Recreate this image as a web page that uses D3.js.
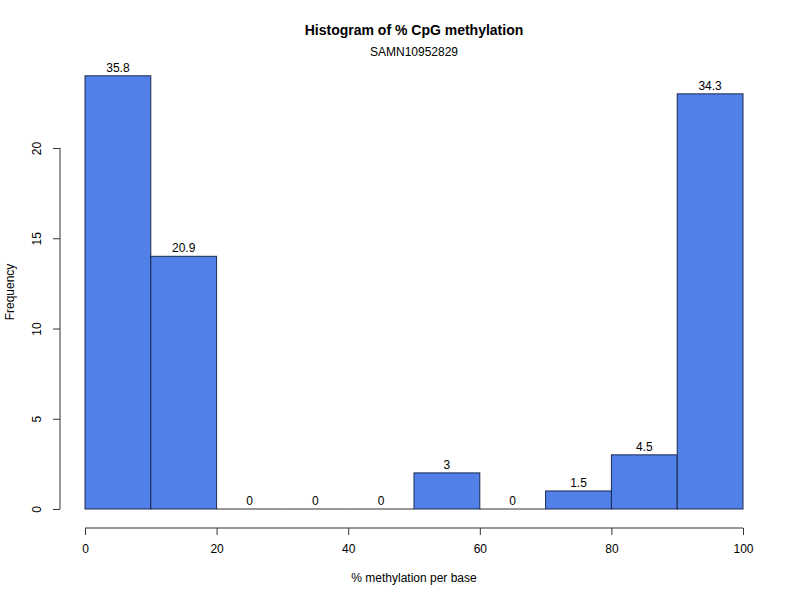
<!DOCTYPE html>
<html><head><meta charset="utf-8">
<script src="https://cdn.jsdelivr.net/npm/d3@7"></script>
<style>body{margin:0;background:#fff}text{font-family:"Liberation Sans",Arial,sans-serif}</style>
</head><body>
<svg id="c" width="800" height="600"></svg>
<script>
const binStarts = [0,10,20,30,40,50,60,70,80,90];
const binWidth = 10;
const counts = [24,14,0,0,0,2,0,1,3,23];
const percentLabels = ["35.8","20.9","0","0","0","3","0","1.5","4.5","34.3"];
const xTicks = [0,20,40,60,80,100];
const yTicks = [0,5,10,15,20];

const svg = d3.select("#c");
const x = d3.scaleLinear().domain([0,100]).range([85,743]);
const y = d3.scaleLinear().domain([0,20]).range([509,148]);

svg.selectAll("rect.bar").data(counts).enter().append("rect")
  .attr("x",(d,i)=>x(binStarts[i]))
  .attr("width",(d,i)=>x(binStarts[i]+binWidth)-x(binStarts[i]))
  .attr("y",d=>y(d))
  .attr("height",d=>y(0)-y(d))
  .attr("fill","#5080e8").attr("stroke","#1a2a50").attr("stroke-width",1);
// zero-height bars drawn as lines
svg.selectAll("line.z").data(counts).enter().filter(d=>d===0).append("line");
counts.forEach((d,i)=>{ if(d===0){ svg.append("line").attr("x1",x(binStarts[i])).attr("x2",x(binStarts[i]+binWidth)).attr("y1",y(0)).attr("y2",y(0)).attr("stroke","#333"); }});

svg.selectAll("text.lab").data(percentLabels).enter().append("text")
  .attr("x",(d,i)=>x(binStarts[i]+binWidth/2))
  .attr("y",(d,i)=>y(counts[i])-4)
  .attr("text-anchor","middle").attr("font-size",12).text(d=>d);

const xa = svg.append("g").attr("transform","translate(0,528)")
  .call(d3.axisBottom(x).tickValues(xTicks).tickSize(7).tickPadding(9));
const ya = svg.append("g").attr("transform","translate(60,0)")
  .call(d3.axisLeft(y).tickValues(yTicks).tickSize(7).tickPadding(9));
[xa,ya].forEach(a=>{a.select(".domain").attr("stroke","#333");a.selectAll(".tick line").attr("stroke","#333");
  a.selectAll("text").attr("font-size",12).attr("fill","#000").attr("font-family","Liberation Sans, Arial, sans-serif");});
xa.select(".domain").attr("d","M85,0H743");
ya.select(".domain").attr("d","M0,509V148");
ya.selectAll(".tick text").attr("transform","rotate(-90)").attr("text-anchor","middle").attr("x",0).attr("y",0)
  .attr("dy",null).attr("transform",function(){return "translate(-19,0) rotate(-90)";});

svg.append("text").attr("x",414).attr("y",35).attr("text-anchor","middle").attr("font-size",14).attr("font-weight","bold").text("Histogram of % CpG methylation");
svg.append("text").attr("x",414).attr("y",56).attr("text-anchor","middle").attr("font-size",12).text("SAMN10952829");
svg.append("text").attr("x",414).attr("y",582).attr("text-anchor","middle").attr("font-size",12).text("% methylation per base");
svg.append("text").attr("transform","translate(14,292) rotate(-90)").attr("text-anchor","middle").attr("font-size",12).text("Frequency");
</script>
</body></html>
